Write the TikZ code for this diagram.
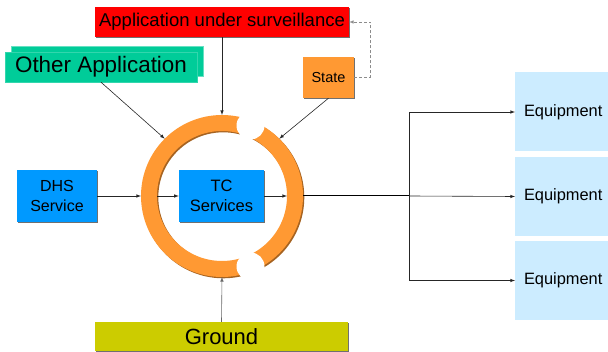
\documentclass[tikz,border=0pt]{standalone}
\usepackage{fontspec}
\setmainfont{Liberation Sans}
\usepackage{tikz}
\usetikzlibrary{positioning,shapes,arrows,shadows}

\definecolor{appred}{RGB}{255,0,0}
\definecolor{othergreen}{RGB}{0,204,153}
\definecolor{ringorange}{RGB}{255,153,51}
\definecolor{tcblue}{RGB}{0,153,255}
\definecolor{equipblue}{RGB}{204,236,255}
\definecolor{groundolive}{RGB}{204,204,0}

\begin{document}
\begin{tikzpicture}[
				x=1pt, y=-1pt, >=latex,
				box/.style={rectangle, inner sep=0pt, align=center,
					drop shadow={shadow xshift=1.3pt, shadow yshift=-1.3pt, fill=black!70, opacity=.8}},
				link/.style={->, line width=0.6pt, black!85},
				equip/.style={rectangle, fill=equipblue, anchor=west, minimum width=96pt, minimum height=79pt,
					font=\fontsize{16.4}{20}\selectfont}
				]
				\useasboundingbox (0,0) rectangle (608,352);
				
				% ring round the TC services
				\fill[ringorange!65!black, even odd rule] (223.3,197.3) circle (81pt) (223.3,197.3) circle (65pt);
				\fill[ringorange, even odd rule] (222,196) circle (81pt) (222,196) circle (65pt);
				\fill[white] (250.5,125.5) circle (14pt) (250.5,266.5) circle (14pt);
				\coordinate (ringN) at (222,115);
				\coordinate (ringS) at (222,277);
				\coordinate (ringNW) at (164.7,138.7);
				\coordinate (ringNE) at (279.3,138.7);
				\coordinate (ringWo) at (141,196);
				\coordinate (ringWi) at (157,196);
				\coordinate (ringEi) at (287,196);
				\coordinate (ringEo) at (303,196);
				
				\node[box, fill=appred, minimum width=254pt, minimum height=30pt, font=\fontsize{18.5}{22}\selectfont] (app) at (222,22) {Application under surveillance};
				\node[rectangle, inner sep=0pt, fill=othergreen, draw=othergreen!80!white, minimum width=192pt, minimum height=30pt,
					copy shadow={shadow xshift=6pt, shadow yshift=6pt, fill=othergreen, draw=othergreen!60!white},
					font=\fontsize{22.4}{26}\selectfont] (other) at (101,67) {Other Application};
				\node[box, fill=ringorange, minimum width=51pt, minimum height=41pt, font=\fontsize{14.5}{17}\selectfont] (state) at (328.5,77.5) {State};
				\node[box, fill=tcblue, minimum width=80pt, minimum height=52pt, font=\fontsize{16}{20}\selectfont] (dhs) at (57,196) {DHS\\Service};
				\node[box, fill=tcblue, minimum width=85pt, minimum height=52pt, font=\fontsize{16.5}{20}\selectfont] (tc) at (221.5,196) {TC\\Services};
				\node[box, fill=groundolive, minimum width=253pt, minimum height=29pt, font=\fontsize{22}{26}\selectfont] (ground) at (221.5,336.5) {Ground};
				
				\node[equip] (eq1) at (515,112) {Equipment};
				\node[equip] (eq2) at (515,196.5) {Equipment};
				\node[equip] (eq3) at (515,280.5) {Equipment};
				
				\draw[link] (app.south) -- (ringN);
				\draw[link] (other.south) -- (ringNW);
				\draw[link] (state.south) -- (ringNE);
				\draw[link, black!60] (ground.north) -- (ringS);
				\draw[link] (dhs.east) -- (ringWo);
				\draw[link] (ringWi) -- (tc.west);
				\draw[link] (tc.east) -- (ringEi);
				\draw[->, black!45, densely dashed, line width=0.5pt] (state.east) -- ++(16,0) |- (app.east);
				
				% fan out to the equipment
				\coordinate (fork) at (409,196);
				\draw[line width=1pt] (ringEo) -- (fork);
				\draw[link] (fork) -- (eq2.west);
				\draw[link] (fork) |- (eq1.west);
				\draw[link] (fork) |- (eq3.west);
			\end{tikzpicture}
\end{document}
